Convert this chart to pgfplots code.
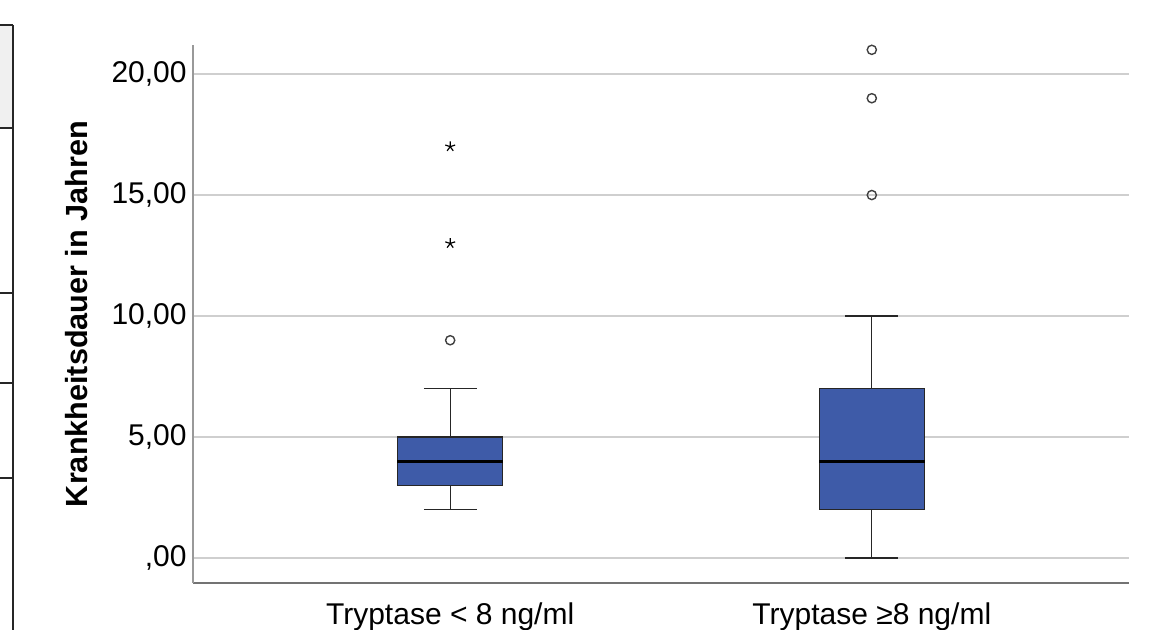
\documentclass[border=0pt]{standalone}
\usepackage{pgfplots}
\pgfplotsset{compat=1.18}
\usepgfplotslibrary{statistics}
\usepackage{fontspec}
\setmainfont{Liberation Sans}
\definecolor{boxblue}{HTML}{3E5BA8}
\definecolor{gridgray}{HTML}{CFCFCF}
\begin{document}
\begin{tikzpicture}
\path[use as bounding box] (0pt,0pt) rectangle (578.5pt,315pt);
% fragment of a neighbouring table at the left edge
\fill[black!6] (0pt,302.5pt) rectangle (6.5pt,251pt);
\draw[black!85, line width=1pt] (6.5pt,302.5pt) -- (6.5pt,0pt);
\foreach \yy in {302.5,251,168.5,123.5,76} {
  \draw[black!85, line width=1pt] (0pt,\yy pt) -- (6.5pt,\yy pt);
}
\begin{axis}[
  at={(96.5pt,23.5pt)}, anchor=south west,
  scale only axis, width=468pt, height=269pt,
  xmin=0.39, xmax=2.61, ymin=-1.03, ymax=21.2,
  clip=false,
  axis x line*=bottom, axis y line*=left,
  x axis line style={draw=black!55, line width=0.75pt, -},
  y axis line style={draw=black!40, line width=0.75pt, -},
  major tick length=0pt,
  tick style={draw=none},
  ymajorgrids, grid style={draw=gridgray, line width=0.75pt},
  ytick={0,5,10,15,20},
  yticklabels={{,00},{5,00},{10,00},{15,00},{20,00}},
  xtick={1,2},
  xticklabels={{Tryptase < 8 ng/ml},{Tryptase ≥8 ng/ml}},
  ticklabel style={font=\fontsize{15}{18}\selectfont, text=black},
  yticklabel style={anchor=east, inner sep=0pt, xshift=-3pt},
  xticklabel style={anchor=north, inner sep=0pt, yshift=-9.5pt},
  ylabel={Krankheitsdauer in Jahren},
  every axis y label/.style={at={([xshift=-53pt]axis description cs:0,0.5)}, rotate=90, anchor=base, font=\fontsize{15.3}{18}\selectfont\bfseries, inner sep=0pt},
  boxplot/draw direction=y,
  boxplot/every median/.style={draw=black, line width=1.5pt},
  boxplot/every box/.style={draw=black!85, line width=0.6pt, fill=boxblue},
  boxplot/every whisker/.style={draw=black!85, line width=0.6pt},
]
\addplot[boxplot prepared={draw position=1, lower whisker=2, lower quartile=3, median=4, upper quartile=5, upper whisker=7, box extend=0.25, whisker extend=0.125}, boxplot/draw direction=y, draw=black!85] coordinates {};
\addplot[boxplot prepared={draw position=2, lower whisker=0, lower quartile=2, median=4, upper quartile=7, upper whisker=10, box extend=0.25, whisker extend=0.125}, boxplot/draw direction=y, draw=black!85] coordinates {};
\addplot[only marks, mark=o, mark size=2.3pt, draw=black!75, line width=0.7pt] coordinates {(1,9) (2,15) (2,19) (2,21)};
\addplot[only marks, mark=star, mark size=2.6pt, draw=black, line width=0.6pt] coordinates {(1,13) (1,17)};
\end{axis}
\end{tikzpicture}
\end{document}
